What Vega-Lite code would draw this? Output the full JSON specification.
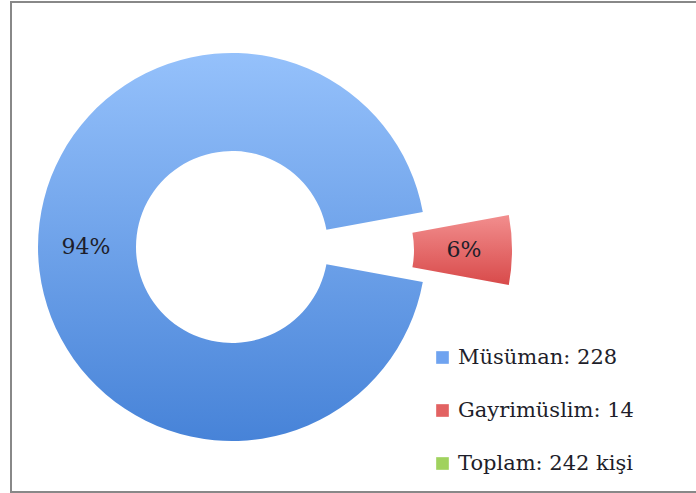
{
  "$schema": "https://vega.github.io/schema/vega-lite/v6.json",
  "autosize": {"type": "none"},
  "padding": {"left": 11, "top": 2, "right": 0, "bottom": 1},
  "width": 685,
  "height": 490,
  "background": "white",
  "config": {
    "view": {"stroke": null},
    "text": {"font": "DejaVu Serif"}
  },
  "data": {
    "values": [
      {"category": "Gayrimüslim", "value": 14, "pct": "6%"},
      {"category": "Müsüman", "value": 228, "pct": "94%"}
    ]
  },
  "layer": [
    {
      "data": {"values": [{"frame": "border"}]},
      "mark": {"type": "rect", "fill": null, "stroke": "#888888", "strokeWidth": 2, "strokeDash": [685, 490, 1175]},
      "encoding": {
        "x": {"value": 0},
        "x2": {"value": "width"},
        "y": {"value": 0},
        "y2": {"value": "height"}
      }
    },
    {
      "mark": {
        "type": "arc",
        "outerRadius": 194,
        "innerRadius": 96,
        "xOffset": -121.5,
        "yOffset": 0,
        "fill": {"gradient": "linear", "x1": 0, "y1": 0, "x2": 0, "y2": 1,
          "stops": [{"offset": 0, "color": "#95c1fb"}, {"offset": 1, "color": "#4783d8"}]}
      },
      "encoding": {
        "theta": {"field": "value", "type": "quantitative", "stack": true,
          "scale": {"domain": [0, 242], "range": [1.38905, 7.67224]}},
        "fillOpacity": {"condition": {"test": "datum.category === 'Müsüman'", "value": 1}, "value": 0}
      }
    },
    {
      "mark": {
        "type": "arc",
        "outerRadius": 194,
        "innerRadius": 96,
        "xOffset": -35.5,
        "yOffset": 3,
        "fill": {"gradient": "linear", "x1": 0, "y1": 0, "x2": 0, "y2": 1,
          "stops": [{"offset": 0, "color": "#f28e8e"}, {"offset": 1, "color": "#d84a4a"}]}
      },
      "encoding": {
        "theta": {"field": "value", "type": "quantitative", "stack": true},
        "fillOpacity": {"condition": {"test": "datum.category === 'Gayrimüslim'", "value": 1}, "value": 0}
      }
    },
    {
      "mark": {"type": "text", "radius": 146, "xOffset": -121.5, "yOffset": 0, "fontSize": 22, "color": "#1e1e2a"},
      "encoding": {
        "theta": {"field": "value", "type": "quantitative", "stack": true},
        "text": {"field": "pct"},
        "opacity": {"condition": {"test": "datum.category === 'Müsüman'", "value": 1}, "value": 0}
      }
    },
    {
      "mark": {"type": "text", "radius": 146, "xOffset": -35.5, "yOffset": 3, "fontSize": 22, "color": "#1e1e2a"},
      "encoding": {
        "theta": {"field": "value", "type": "quantitative", "stack": true},
        "text": {"field": "pct"},
        "opacity": {"condition": {"test": "datum.category === 'Gayrimüslim'", "value": 1}, "value": 0}
      }
    },
    {
      "data": {"values": [
        {"label": "Müsüman: 228"},
        {"label": "Gayrimüslim: 14"},
        {"label": "Toplam: 242 kişi"}
      ]},
      "mark": {"type": "point", "shape": "square", "filled": true, "opacity": 0},
      "encoding": {
        "color": {
          "field": "label", "type": "nominal",
          "scale": {"domain": ["Müsüman: 228", "Gayrimüslim: 14", "Toplam: 242 kişi"],
                    "range": ["#6fa3f0", "#e26262", "#a0d25e"]},
          "legend": {
            "orient": "none", "legendX": 421, "legendY": 345, "title": null,
            "symbolType": "square", "symbolSize": 160, "symbolOpacity": 1, "symbolStrokeWidth": 0,
            "labelFont": "DejaVu Serif", "labelFontSize": 21, "labelColor": "#1e1e2a",
            "labelOffset": 5, "rowPadding": 31, "labelLimit": 300
          }
        }
      }
    }
  ]
}
